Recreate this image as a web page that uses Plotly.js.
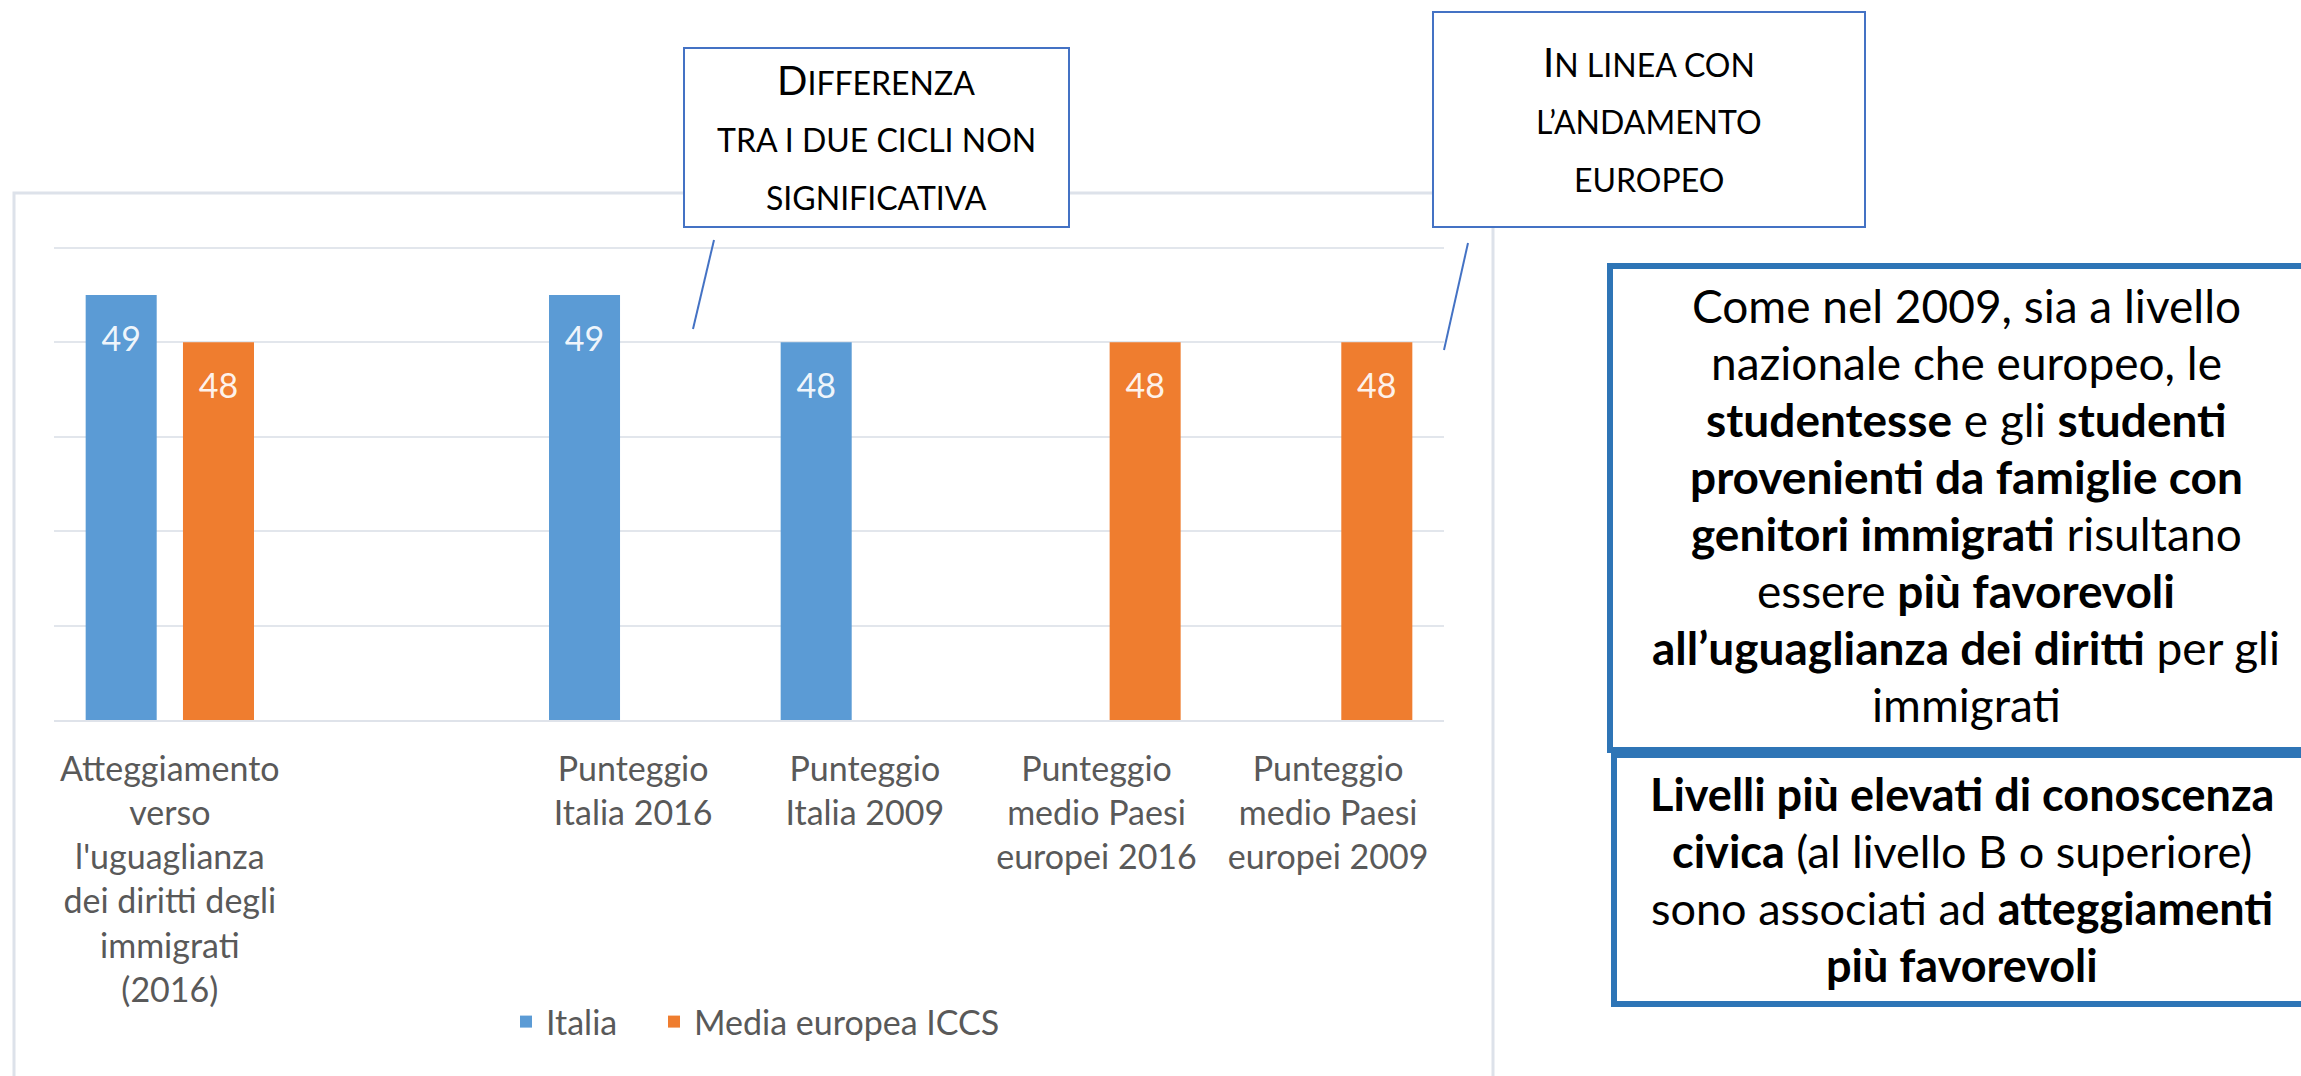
<!DOCTYPE html>
<html>
<head>
<meta charset="utf-8">
<script src="https://cdn.plot.ly/plotly-3.0.1.min.js"></script>
<style>
  html, body { margin: 0; padding: 0; background: #ffffff; }
  #chart { width: 2301px; height: 1076px; }
</style>
</head>
<body>
<div id="chart"></div>
<script>
// categories (the second one is an empty slot, as in the original chart)
let categories = [
    "Atteggiamento<br>verso<br>l'uguaglianza<br>dei diritti degli<br>immigrati<br>(2016)",
    " ",
    "Punteggio<br>Italia 2016",
    "Punteggio<br>Italia 2009",
    "Punteggio<br>medio Paesi<br>europei 2016",
    "Punteggio<br>medio Paesi<br>europei 2009"
];

// series values
let italia = [49, null, 49, 48, null, null];
let mediaEuropea = [48, null, null, null, 48, 48];

let seriesNames = ["Italia", "Media europea ICCS"];

// text of the boxes, one entry per line
let box1Lines = ['<span style="font-size:40px">D</span>IFFERENZA', 'TRA I DUE CICLI NON', 'SIGNIFICATIVA'];
let box2Lines = ['<span style="font-size:40px">I</span>N LINEA CON', 'L’ANDAMENTO', 'EUROPEO'];
let box3Lines = [
    'Come nel 2009, sia a livello',
    'nazionale che europeo, le',
    '<b>studentesse</b> e gli <b>studenti</b>',
    '<b>provenienti da famiglie con</b>',
    '<b>genitori immigrati</b> risultano',
    'essere <b>più favorevoli</b>',
    '<b>all’uguaglianza dei diritti</b> per gli',
    'immigrati'
];
let box4Lines = [
    '<b>Livelli più elevati di conoscenza</b>',
    '<b>civica</b> (al livello B o superiore)',
    'sono associati ad <b>atteggiamenti</b>',
    '<b>più favorevoli</b>'
];

// plot area in pixels, used to place the boxes around the chart
let L = 54, R = 1444, T = 246, B = 720;
let W = R - L, H = B - T;
function px(X) { return (X - L) / W; }
function py(Y) { return 1 - (Y - T) / H; }

let font = "Lato, 'Open Sans', sans-serif";

// label sits a bit below the top of the bar, like in the original
let labelTemplate = '<span style="font-size:9px">\u00a0</span><br>%{y}';

// 1. Trace data
let trace01 = {
    x: categories,
    y: italia,
    name: seriesNames[0],
    legend: 'legend',
    type: 'bar',
    marker: { color: '#5b9bd5' },
    texttemplate: labelTemplate,
    textposition: 'inside',
    insidetextanchor: 'end',
    textangle: 0,
    textfont: { family: font, size: 34, color: 'rgba(255,255,255,0.92)' },
    hoverinfo: 'skip'
};

let trace02 = {
    x: categories,
    y: mediaEuropea,
    name: seriesNames[1],
    legend: 'legend2',
    type: 'bar',
    marker: { color: '#ef7d2f' },
    texttemplate: labelTemplate,
    textposition: 'inside',
    insidetextanchor: 'end',
    textangle: 0,
    textfont: { family: font, size: 34, color: 'rgba(255,255,255,0.92)' },
    hoverinfo: 'skip'
};

// 2. Put the trace data into an array
let data01 = [trace01, trace02];

// shapes: chart frame, callout boxes and their pointers
let shapes = [
    {
        type: 'rect', xref: 'paper', yref: 'paper', layer: 'below',
        x0: px(14), x1: px(1493), y0: py(193), y1: py(1100),
        line: { color: '#dde2ea', width: 3 }, fillcolor: 'rgba(0,0,0,0)'
    },
    {
        type: 'rect', xref: 'paper', yref: 'paper',
        x0: px(684), x1: px(1069), y0: py(48), y1: py(227),
        line: { color: '#4472c4', width: 2 }, fillcolor: '#ffffff'
    },
    {
        type: 'line', xref: 'paper', yref: 'paper',
        x0: px(714), y0: py(240), x1: px(693), y1: py(329),
        line: { color: '#4472c4', width: 2 }
    },
    {
        type: 'rect', xref: 'paper', yref: 'paper',
        x0: px(1433), x1: px(1865), y0: py(12), y1: py(227),
        line: { color: '#4472c4', width: 2 }, fillcolor: '#ffffff'
    },
    {
        type: 'line', xref: 'paper', yref: 'paper',
        x0: px(1468), y0: py(243), x1: px(1444), y1: py(350),
        line: { color: '#4472c4', width: 2 }
    },
    {
        type: 'rect', xref: 'paper', yref: 'paper',
        x0: px(1610), x1: px(2330), y0: py(266), y1: py(750),
        line: { color: '#2e75b6', width: 6 }, fillcolor: '#ffffff'
    },
    {
        type: 'rect', xref: 'paper', yref: 'paper',
        x0: px(1614), x1: px(2330), y0: py(755), y1: py(1004),
        line: { color: '#2e75b6', width: 6 }, fillcolor: '#ffffff'
    }
];

// one annotation per text line so the line spacing can follow the original
function lineNotes(lines, cx, firstY, step, size) {
    return lines.map((t, i) => ({
        xref: 'paper', yref: 'paper',
        x: px(cx), y: py(firstY + i * step),
        xanchor: 'center', yanchor: 'middle',
        showarrow: false, align: 'center',
        text: t,
        font: { family: font, size: size, color: '#000000' }
    }));
}

let annotations = [].concat(
    lineNotes(box1Lines, 876, 80, 59, 32),
    lineNotes(box2Lines, 1649, 62, 59, 32),
    lineNotes(box3Lines, 1966, 305, 57, 46),
    lineNotes(box4Lines, 1962, 794, 57, 45)
);

let legendFont = { family: font, size: 34, color: '#595959' };

// 3. Add layout information
let layout01 = {
    width: 2301,
    height: 1076,
    margin: { l: L, r: 2301 - R, t: T, b: 1076 - B, pad: 0 },
    paper_bgcolor: '#ffffff',
    plot_bgcolor: '#ffffff',
    font: { family: font, size: 34, color: '#595959' },
    barmode: 'group',
    bargap: 0.16,
    bargroupgap: 0.27,
    showlegend: true,
    legend: {
        orientation: 'h',
        x: px(506), xanchor: 'left',
        y: py(1022), yanchor: 'middle',
        font: legendFont,
        bgcolor: 'rgba(0,0,0,0)'
    },
    legend2: {
        orientation: 'h',
        x: px(654), xanchor: 'left',
        y: py(1022), yanchor: 'middle',
        font: legendFont,
        bgcolor: 'rgba(0,0,0,0)'
    },
    xaxis: {
        type: 'category',
        categoryorder: 'array',
        categoryarray: categories,
        showgrid: false,
        showline: true,
        linecolor: '#dfe3ea',
        linewidth: 2,
        ticks: '',
        ticklabelstandoff: 18,
        tickangle: 0,
        tickfont: { family: font, size: 34, color: '#595959' },
        fixedrange: true
    },
    yaxis: {
        range: [40, 50.04],
        dtick: 2,
        showticklabels: false,
        showgrid: true,
        gridcolor: '#e2e6ec',
        gridwidth: 2,
        zeroline: false,
        showline: false,
        ticks: '',
        fixedrange: true
    },
    shapes: shapes,
    annotations: annotations
};

// 4. Call on Plotly.newPlot and plot to an id
Plotly.newPlot('chart', data01, layout01, { displayModeBar: false, staticPlot: true });
</script>
</body>
</html>
